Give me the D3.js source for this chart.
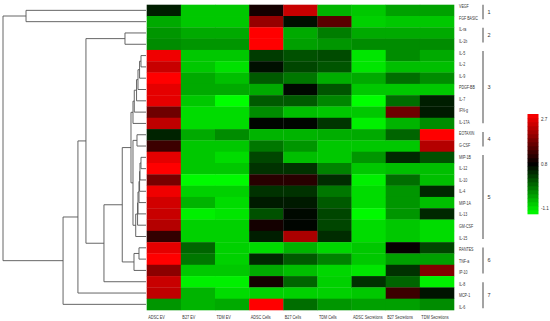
<!DOCTYPE html>
<html>
<head>
<meta charset="utf-8">
<script src="https://cdn.jsdelivr.net/npm/d3@7"></script>
<style>
  body { margin: 0; background: #fff; }
  text { font-family: "Liberation Sans", Arial, sans-serif; fill: #333; }
</style>
</head>
<body>
<div id="chart"></div>
<script>
var svgWidth = 550;
var svgHeight = 321;

// cytokines, top to bottom
var rows = ["VEGF", "FGF BASIC", "IL-ra", "IL-1b", "IL-5", "IL-2", "IL-9", "PDGF-BB", "IL-7",
  "IFN-g", "IL-17A", "EOTAXIN", "G-CSF", "MIP-1B", "IL-12", "IL-10", "IL-4", "MIP-1A",
  "IL-13", "GM-CSF", "IL-15", "RANTES", "TNF-a", "IP-10", "IL-8", "MCP-1", "IL-6"];

var columns = ["ADSC EV", "B27 EV", "TDM EV", "ADSC Cells", "B27 Cells", "TDM Cells",
  "ADSC Secretions", "B27 Secretions", "TDM Secretions"];

// one array per column, same order as rows
var adscEV = [0.58, -0.47, -0.32, -0.24, 2.59, 2.29, 2.7, 2.51, 2.51, 1.62, 2.22, 0.54, 1.25, 2.51, 2.7, 1.69, 2.59, 2.36, 2.29, 2.14, 1.17, 2.51, 2.7, 1.84, 2.29, 2.22, -0.32];
var b27EV = [-0.69, -0.69, -0.47, -0.32, -0.69, -0.69, -0.47, -0.47, -0.69, -0.84, -0.84, -0.47, -0.69, -0.69, -0.69, -1.06, -0.76, -0.54, -0.99, -0.76, -0.76, 0.05, -0.09, -0.69, -0.99, -0.54, -0.54];
var tdmEV = [-0.69, -0.69, -0.47, -0.32, -0.69, -0.88, -0.62, -0.47, -1.1, -0.84, -0.84, -0.24, -0.69, -0.84, -0.69, -1.06, -0.76, -0.84, -0.91, -0.76, -0.76, -0.76, -0.76, -0.69, -0.99, -0.84, -0.47];
var adscCells = [0.95, 1.92, 2.7, 2.7, 0.35, 0.69, 0.13, -0.47, 0.13, -0.24, 0.76, -0.54, -0.09, 0.28, 0.43, 1.1, 0.43, 0.61, 0.2, 0.95, 0.58, -0.84, 0.5, -0.47, 0.95, -0.76, 2.7];
var b27Cells = [2.29, 0.69, -0.47, -0.39, 0.2, 0.28, -0.09, 0.73, 0.13, -0.62, 0.76, -0.54, -0.32, -0.62, 0.43, 1.1, 0.43, 0.61, 0.73, 0.76, 2.07, -0.54, 0.13, -0.62, 0.05, -0.76, -0.02];
var tdmCells = [-0.55, 1.47, -0.13, -0.32, 0.24, 0.17, -0.5, 0.17, -0.2, -0.69, 0.4, -0.5, -0.69, -0.69, -0.17, 0.47, -0.09, 0.13, 0.28, 0.28, 0.47, -0.8, -0.17, -0.8, -0.76, -0.76, -0.32];
var adscSec = [-0.69, -0.76, -0.47, -0.24, -0.91, -0.91, -0.47, -0.69, -1.1, -0.69, -0.99, -0.47, -0.69, -0.32, -0.69, -0.99, -0.84, -0.84, -1.06, -0.84, -0.84, -0.69, -0.69, -0.91, 0.43, -0.69, -0.39];
var b27Sec = [-0.4, -0.69, -0.47, -0.24, -0.24, -0.62, -0.02, -0.69, -0.02, 1.62, -0.54, 0.05, -0.69, 0.5, -0.62, -0.02, -0.32, -0.32, -0.32, -0.69, -0.69, 0.84, -0.39, 0.43, 0.05, 1.25, -0.39];
var tdmSec = [-0.4, -0.69, -0.47, -0.24, -0.47, -0.62, -0.24, -0.69, 0.58, 0.61, -0.24, 2.7, 2.14, 0.2, -0.62, -0.62, 0.5, -0.62, 0.5, -0.84, -0.84, 0.28, -0.39, 1.77, -0.99, 0.65, -0.24];

var columnValues = [adscEV, b27EV, tdmEV, adscCells, b27Cells, tdmCells, adscSec, b27Sec, tdmSec];

// clusters: [name, left, right, height] (height as fraction of the root)
var merges = [
  ["VF", "VEGF", "FGF BASIC", 0.839],
  ["IL1", "IL-ra", "IL-1b", 0.147],
  ["a1", "IL-5", "IL-2", 0.035],
  ["a2", "a1", "IL-9", 0.045],
  ["a3", "a2", "PDGF-BB", 0.056],
  ["a4", "a3", "IL-7", 0.066],
  ["a5", "a4", "IFN-g", 0.082],
  ["a6", "a5", "IL-17A", 0.091],
  ["e", "EOTAXIN", "G-CSF", 0.063],
  ["b1", "MIP-1B", "IL-12", 0.035],
  ["b2", "b1", "IL-10", 0.042],
  ["b3", "b2", "IL-4", 0.045],
  ["b4", "b3", "MIP-1A", 0.049],
  ["b5", "b4", "IL-13", 0.056],
  ["b6", "b5", "GM-CSF", 0.059],
  ["b7", "b6", "IL-15", 0.072],
  ["y", "e", "b7", 0.091],
  ["c", "a6", "y", 0.105],
  ["r1", "RANTES", "TNF-a", 0.049],
  ["r2", "r1", "IP-10", 0.084],
  ["d", "c", "r2", 0.166],
  ["f", "d", "IL-8", 0.294],
  ["g", "IL1", "f", 0.42],
  ["h", "g", "MCP-1", 0.476],
  ["k", "h", "IL-6", 0.58],
  ["root", "VF", "k", 1.0]
];

// groups on the right: label, first row, last row
var groupLabels = ["1", "2", "3", "4", "5", "6", "7"];
var groupFirst = ["VEGF", "IL-ra", "IL-5", "EOTAXIN", "MIP-1B", "RANTES", "IL-8"];
var groupLast = ["FGF BASIC", "IL-1b", "IL-17A", "G-CSF", "IL-15", "IP-10", "IL-6"];

var legendDomain = [-1.1, 2.7];
var legendTicks = [2.7, 0.8, -1.1];

var svg = d3.select("#chart")
  .append("svg")
  .attr("width", svgWidth)
  .attr("height", svgHeight);

// scales
var xScale = d3.scaleBand().domain(columns).range([146.7, 454]);
var yScale = d3.scaleBand().domain(rows).range([4.7, 310]);
var labelY = d3.scalePoint().domain(rows).range([6.7, 307.3]);
var color = d3.scaleLinear()
  .domain([-1.1, 0.8, 2.7])
  .range(["#00ff00", "#000000", "#ff0000"])
  .clamp(true);

// heatmap cells
var cells = [];
columns.forEach(function(col, j) {
  rows.forEach(function(row, i) {
    cells.push({ col: col, row: row, value: columnValues[j][i] });
  });
});

svg.append("g")
  .selectAll("rect")
  .data(cells)
  .enter()
  .append("rect")
  .attr("x", d => xScale(d.col))
  .attr("y", d => yScale(d.row))
  .attr("width", xScale.bandwidth() + 0.3)
  .attr("height", yScale.bandwidth() + 0.3)
  .attr("fill", d => color(d.value));

// row labels (narrow, like the original Calibri text)
svg.append("g")
  .selectAll("text")
  .data(rows)
  .enter()
  .append("text")
  .attr("transform", d => `translate(459, ${labelY(d)}) scale(0.78, 1)`)
  .attr("dy", "0.35em")
  .style("font-size", "4.6px")
  .text(d => d);

// column labels
svg.append("g")
  .selectAll("text")
  .data(columns)
  .enter()
  .append("text")
  .attr("transform", d => `translate(${xScale(d) + 1.5}, 319) scale(0.76, 1)`)
  .style("font-size", "5px")
  .text(d => d);

// group brackets
var groups = groupLabels.map(function(g, i) {
  return { label: g, y0: labelY(groupFirst[i]) - 2, y1: labelY(groupLast[i]) + 1 };
});

var groupG = svg.append("g");
groupG.selectAll("line")
  .data(groups)
  .enter()
  .append("line")
  .attr("x1", 483)
  .attr("x2", 483)
  .attr("y1", d => d.y0)
  .attr("y2", d => d.y1)
  .attr("stroke", "#666")
  .attr("stroke-width", 1.2);

groupG.selectAll("text")
  .data(groups)
  .enter()
  .append("text")
  .attr("x", 487.5)
  .attr("y", d => (d.y0 + d.y1) / 2)
  .attr("dy", "0.35em")
  .style("font-size", "5.5px")
  .text(d => d.label);

// dendrogram
var hScale = d3.scaleLinear().domain([0, 1]).range([146, 3]);
var nodeY = {};
var nodeH = {};
rows.forEach(function(r) {
  nodeY[r] = yScale(r) + yScale.bandwidth() / 2;
  nodeH[r] = 0;
});

var segments = [];
merges.forEach(function(m) {
  var name = m[0], a = m[1], b = m[2], h = m[3];
  nodeY[name] = (nodeY[a] + nodeY[b]) / 2;
  nodeH[name] = h;
  segments.push([hScale(h), nodeY[a], hScale(h), nodeY[b]]);
  segments.push([hScale(h), nodeY[a], hScale(nodeH[a]), nodeY[a]]);
  segments.push([hScale(h), nodeY[b], hScale(nodeH[b]), nodeY[b]]);
});

svg.append("g")
  .selectAll("line")
  .data(segments)
  .enter()
  .append("line")
  .attr("x1", d => d[0])
  .attr("y1", d => d[1])
  .attr("x2", d => d[2])
  .attr("y2", d => d[3])
  .attr("stroke", "#555")
  .attr("stroke-width", 0.9);

// colour key
var legendY = d3.scaleLinear().domain(legendDomain).range([214, 114]);
var steps = 25;
var stepSize = (legendDomain[1] - legendDomain[0]) / steps;
var legendG = svg.append("g");

legendG.selectAll("rect")
  .data(d3.range(steps))
  .enter()
  .append("rect")
  .attr("x", 527.5)
  .attr("y", i => legendY(legendDomain[0] + (i + 1) * stepSize))
  .attr("width", 11)
  .attr("height", legendY(0) - legendY(stepSize) + 0.3)
  .attr("fill", i => color(legendDomain[0] + (i + 0.5) * stepSize));

legendG.selectAll("text")
  .data(legendTicks)
  .enter()
  .append("text")
  .attr("x", 541)
  .attr("y", d => Math.max(119, Math.min(208, legendY(d))))
  .attr("dy", "0.35em")
  .style("font-size", "4.6px")
  .text(d => d);
</script>
</body>
</html>
